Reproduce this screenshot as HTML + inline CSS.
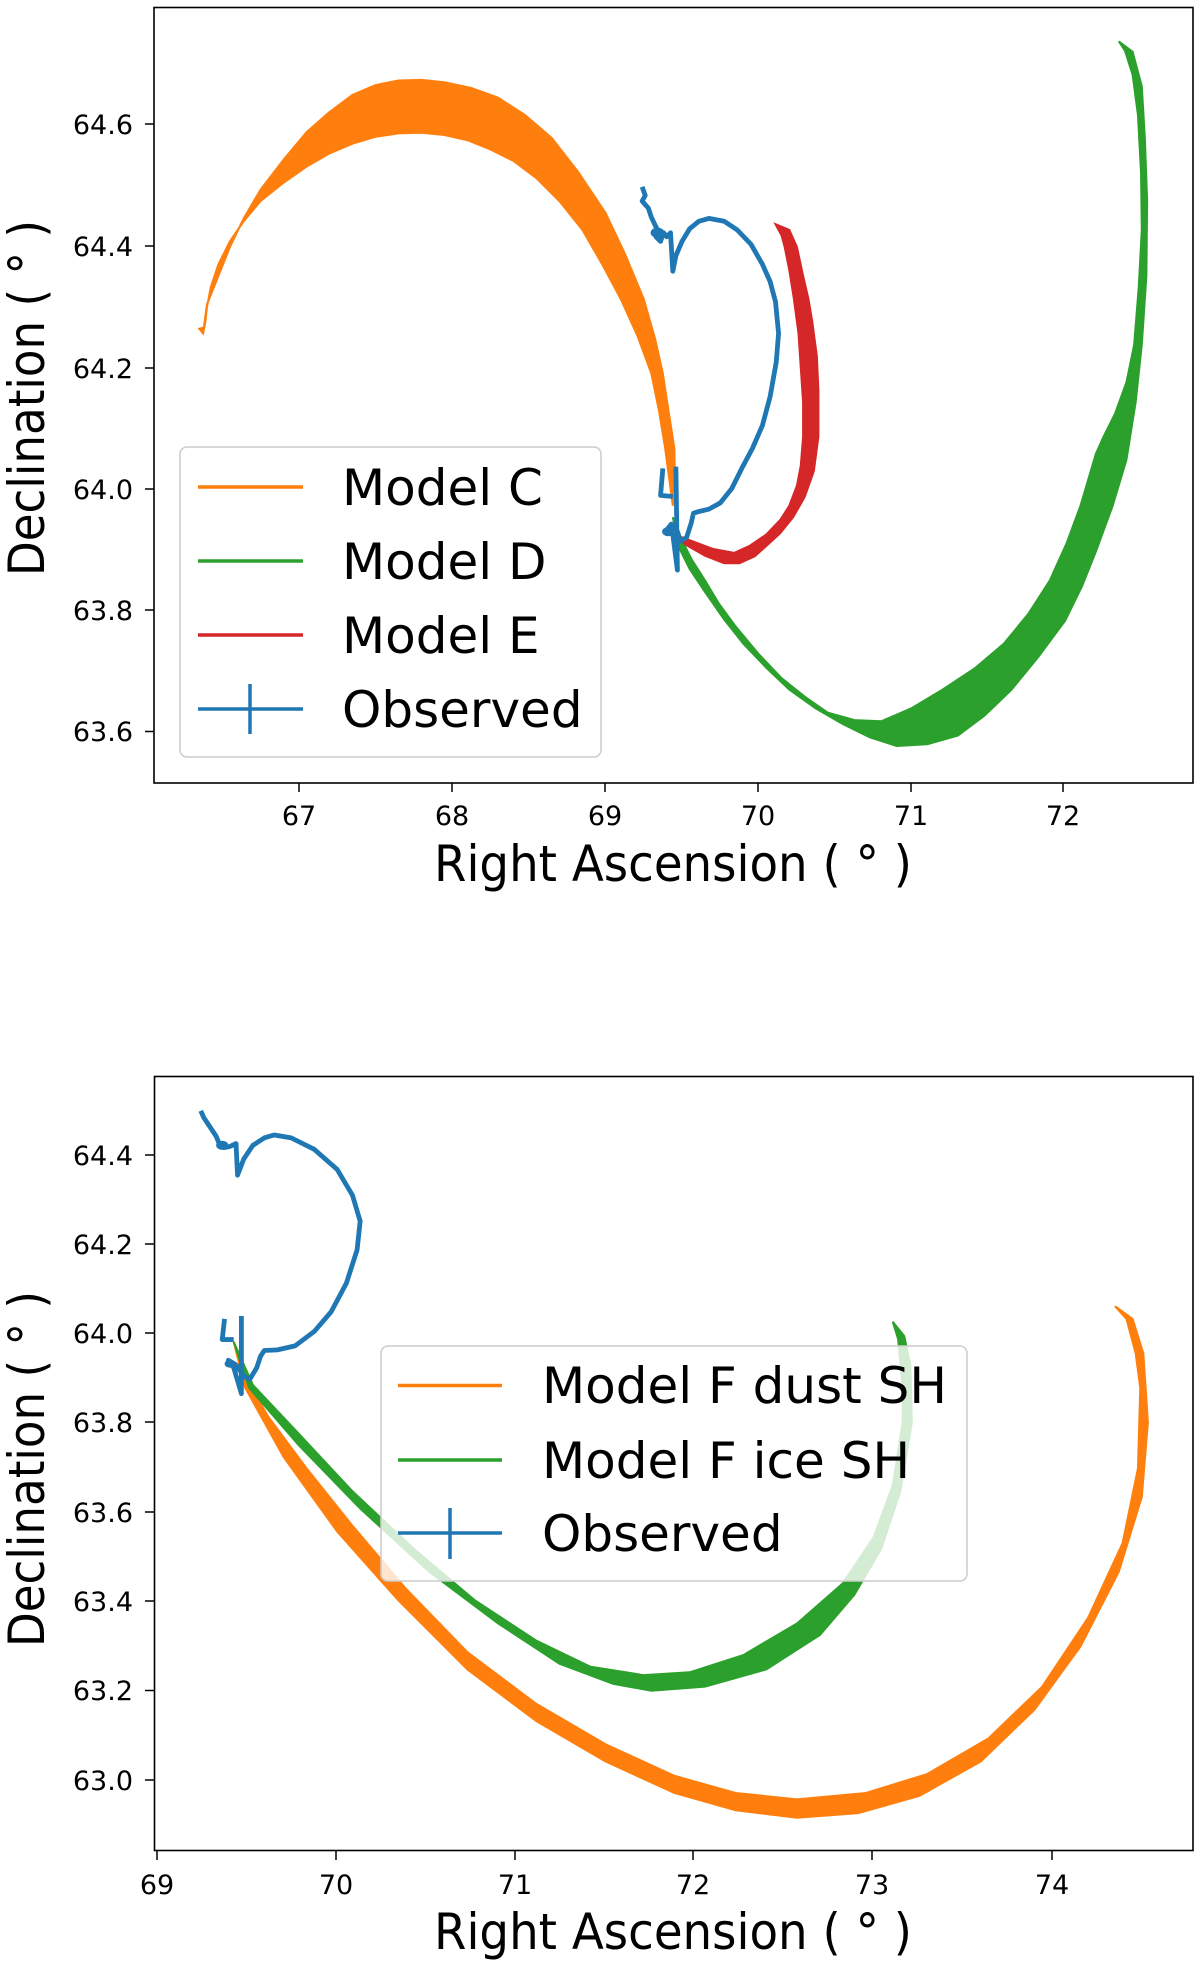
<!DOCTYPE html>
<html><head><meta charset="utf-8"><style>
html,body{margin:0;padding:0;background:#fff}
svg{display:block}
text{font-family:"DejaVu Sans","Liberation Sans",sans-serif;fill:#000}
.t{font-size:27px}
.lg{font-size:50px}
.ax{font-size:50px}
</style></head><body>
<svg width="1200" height="1966" viewBox="0 0 1200 1966" xmlns="http://www.w3.org/2000/svg">
<rect width="1200" height="1966" fill="#fff"/>

<g transform="scale(0.7663,0.5747)">
  <path fill="#ff7f0e" stroke="#ff7f0e" stroke-width="2" vector-effect="non-scaling-stroke" d="M265,580 L260,572 L266,570 L270,530 L285,480 L300,430 L318,380 L340,330 L370,278 L400,230 L430,195 L460,165 L490,148 L520,140 L550,139 L580,143 L615,153 L650,170 L685,200 L720,240 L755,300 L790,370 L815,440 L840,520 L855,590 L865,650 L873,720 L880,780 L881,840 L878,880 L874,840 L868,780 L860,715 L850,650 L832,585 L810,520 L785,458 L760,400 L730,350 L700,310 L670,280 L640,260 L610,244 L580,235 L550,231 L520,232 L490,238 L460,250 L430,267 L400,290 L370,318 L340,350 L318,385 L300,420 L285,460 L275,500 L270,535 L268,560 Z"/>
  <path fill="#2ca02c" stroke="#2ca02c" stroke-width="2" vector-effect="non-scaling-stroke" d="M878,900 L885,950 L900,990 L920,1030 L945,1078 L970,1120 L1000,1162 L1030,1200 L1065,1233 L1100,1260 L1135,1283 L1170,1298 L1210,1295 L1250,1280 L1285,1245 L1320,1200 L1355,1143 L1390,1080 L1412,1020 L1430,960 L1452,880 L1470,800 L1482,700 L1490,600 L1496,480 L1497,350 L1494,240 L1490,150 L1478,90 L1460,72 L1468,88 L1478,130 L1485,200 L1489,300 L1490,400 L1486,500 L1480,600 L1470,665 L1455,720 L1440,760 L1430,790 L1420,835 L1410,880 L1392,945 L1370,1010 L1342,1068 L1310,1120 L1272,1163 L1230,1200 L1190,1232 L1150,1255 L1115,1253 L1080,1240 L1050,1212 L1020,1180 L990,1138 L960,1090 L938,1050 L920,1010 L902,972 L890,940 Z"/>
  <path fill="#d62728" stroke="#d62728" stroke-width="2" vector-effect="non-scaling-stroke" d="M1012,390 L1030,400 L1040,430 L1048,480 L1055,520 L1060,560 L1066,620 L1068,680 L1068,760 L1062,820 L1050,865 L1035,900 L1018,928 L1000,950 L985,968 L965,980 L945,980 L920,967 L895,948 L880,930 L900,940 L930,955 L958,962 L978,950 L1000,930 L1018,905 L1030,880 L1040,845 L1045,810 L1048,760 L1048,700 L1045,640 L1042,580 L1036,520 L1030,470 L1024,430 L1020,410 Z"/>
  <path fill="none" stroke="#1f77b4" stroke-width="4.8" stroke-linejoin="round" vector-effect="non-scaling-stroke" d="M838,325 L842,340 L838,350 L846,362 L850,378 L855,392 L858,400 L856,412 L862,420 L866,405 L870,412 L875,405 L878,472 L882,445 L890,420 L900,398 L912,385 L925,380 L945,385 L962,400 L980,425 L995,460 L1005,490 L1012,525 L1016,580 L1013,630 L1005,690 L995,740 L982,780 L968,815 L955,850 L940,875 L925,886 L912,890 L905,893 L902,910 L896,935 L888,942 L884,925 L876,912 L870,922 L878,930 L884,992 L882,812 M865,815 L862,862 L878,864"/>
  <circle cx="858" cy="405" r="9" fill="#1f77b4"/>
  <circle cx="872" cy="925" r="8" fill="#1f77b4"/>
</g>

<rect x="154" y="7.5" width="1039" height="775.5" fill="none" stroke="#000" stroke-width="1.6"/>
<g stroke="#000" stroke-width="1.5">
  <line x1="145" y1="124" x2="154" y2="124"/><line x1="145" y1="246" x2="154" y2="246"/>
  <line x1="145" y1="368" x2="154" y2="368"/><line x1="145" y1="489" x2="154" y2="489"/>
  <line x1="145" y1="610" x2="154" y2="610"/><line x1="145" y1="731.5" x2="154" y2="731.5"/>
  <line x1="299" y1="783" x2="299" y2="792"/><line x1="452" y1="783" x2="452" y2="792"/>
  <line x1="605" y1="783" x2="605" y2="792"/><line x1="758" y1="783" x2="758" y2="792"/>
  <line x1="911" y1="783" x2="911" y2="792"/><line x1="1063" y1="783" x2="1063" y2="792"/>
</g>
<g class="t" text-anchor="end">
  <text x="133" y="134">64.6</text><text x="133" y="256">64.4</text><text x="133" y="378">64.2</text>
  <text x="133" y="499">64.0</text><text x="133" y="620">63.8</text><text x="133" y="741">63.6</text>
</g>
<g class="t" text-anchor="middle">
  <text x="299" y="825">67</text><text x="452" y="825">68</text><text x="605" y="825">69</text>
  <text x="758" y="825">70</text><text x="911" y="825">71</text><text x="1063" y="825">72</text>
</g>
<text class="ax" x="434" y="881" textLength="478" lengthAdjust="spacingAndGlyphs">Right Ascension ( ° )</text>
<text class="ax" transform="translate(44,576) rotate(-90)" textLength="356" lengthAdjust="spacingAndGlyphs">Declination ( ° )</text>

<rect x="180" y="447" width="421" height="310" rx="7" fill="#fff" fill-opacity="0.8" stroke="#ccc" stroke-width="1.5"/>
<g stroke-width="3.5">
  <line x1="198" y1="487" x2="303" y2="487" stroke="#ff7f0e"/>
  <line x1="198" y1="561" x2="303" y2="561" stroke="#2ca02c"/>
  <line x1="198" y1="635" x2="303" y2="635" stroke="#d62728"/>
  <line x1="198" y1="709" x2="303" y2="709" stroke="#1f77b4"/>
  <line x1="250" y1="684" x2="250" y2="734" stroke="#1f77b4"/>
</g>
<g class="lg">
  <text x="342" y="505">Model C</text><text x="342" y="579">Model D</text>
  <text x="342" y="653">Model E</text><text x="342" y="727">Observed</text>
</g>

<g transform="translate(0,1066) scale(0.7663,0.5747)">
  <path fill="#ff7f0e" stroke="#ff7f0e" stroke-width="2" vector-effect="non-scaling-stroke" d="M305,480 L320,560 L370,680 L440,810 L520,930 L610,1050 L700,1140 L790,1210 L880,1265 L960,1295 L1040,1308 L1120,1300 L1200,1270 L1280,1210 L1350,1120 L1410,1010 L1460,880 L1490,750 L1498,620 L1492,500 L1478,440 L1455,418 L1470,440 L1482,500 L1488,560 L1485,700 L1465,830 L1420,960 L1360,1080 L1290,1170 L1210,1232 L1130,1265 L1040,1276 L960,1265 L880,1235 L790,1180 L700,1110 L610,1020 L530,910 L460,800 L400,700 L350,610 L315,530 Z"/>
  <path fill="#2ca02c" stroke="#2ca02c" stroke-width="2" vector-effect="non-scaling-stroke" d="M305,480 L325,560 L390,660 L470,770 L560,880 L650,970 L730,1040 L800,1075 L850,1087 L920,1080 L1000,1050 L1070,990 L1115,920 L1150,840 L1175,740 L1190,620 L1188,520 L1180,470 L1165,445 L1172,475 L1178,560 L1178,620 L1165,730 L1140,820 L1100,900 L1040,970 L970,1025 L900,1055 L840,1060 L770,1045 L700,1000 L620,930 L540,840 L460,740 L390,640 L330,555 Z"/>
  <path fill="none" stroke="#1f77b4" stroke-width="4.8" stroke-linejoin="round" vector-effect="non-scaling-stroke" d="M262,78 L266,90 L270,98 L276,110 L282,122 L286,135 L292,142 L300,140 L308,135 L310,190 L318,162 L330,138 L345,125 L358,120 L380,125 L410,145 L440,180 L460,225 L470,270 L466,320 L452,378 L432,428 L410,462 L385,487 L362,494 L345,495 L340,505 L335,525 L326,545 L318,540 L308,520 L298,512 L305,525 L315,570 L315,435 M293,440 L290,476 L305,476"/>
  <circle cx="290" cy="138" r="8" fill="#1f77b4"/>
  <circle cx="300" cy="518" r="7" fill="#1f77b4"/>
</g>

<rect x="154.5" y="1076.5" width="1038.5" height="774" fill="none" stroke="#000" stroke-width="1.6"/>
<g stroke="#000" stroke-width="1.5">
  <line x1="145" y1="1155" x2="154" y2="1155"/><line x1="145" y1="1244" x2="154" y2="1244"/>
  <line x1="145" y1="1333" x2="154" y2="1333"/><line x1="145" y1="1422" x2="154" y2="1422"/>
  <line x1="145" y1="1512" x2="154" y2="1512"/><line x1="145" y1="1601" x2="154" y2="1601"/>
  <line x1="145" y1="1690.5" x2="154" y2="1690.5"/><line x1="145" y1="1780" x2="154" y2="1780"/>
  <line x1="157" y1="1851" x2="157" y2="1860"/><line x1="336" y1="1851" x2="336" y2="1860"/>
  <line x1="515" y1="1851" x2="515" y2="1860"/><line x1="693" y1="1851" x2="693" y2="1860"/>
  <line x1="872" y1="1851" x2="872" y2="1860"/><line x1="1052" y1="1851" x2="1052" y2="1860"/>
</g>
<g class="t" text-anchor="end">
  <text x="133" y="1165">64.4</text><text x="133" y="1254">64.2</text><text x="133" y="1343">64.0</text>
  <text x="133" y="1432">63.8</text><text x="133" y="1522">63.6</text><text x="133" y="1611">63.4</text>
  <text x="133" y="1700">63.2</text><text x="133" y="1790">63.0</text>
</g>
<g class="t" text-anchor="middle">
  <text x="157" y="1894">69</text><text x="336" y="1894">70</text><text x="515" y="1894">71</text>
  <text x="693" y="1894">72</text><text x="872" y="1894">73</text><text x="1052" y="1894">74</text>
</g>
<text class="ax" x="434" y="1949" textLength="478" lengthAdjust="spacingAndGlyphs">Right Ascension ( ° )</text>
<text class="ax" transform="translate(44,1647) rotate(-90)" textLength="356" lengthAdjust="spacingAndGlyphs">Declination ( ° )</text>

<rect x="381" y="1346" width="586" height="235" rx="7" fill="#fff" fill-opacity="0.8" stroke="#ccc" stroke-width="1.5"/>
<g stroke-width="3.5">
  <line x1="398" y1="1385.5" x2="502" y2="1385.5" stroke="#ff7f0e"/>
  <line x1="398" y1="1460" x2="502" y2="1460" stroke="#2ca02c"/>
  <line x1="398" y1="1533" x2="502" y2="1533" stroke="#1f77b4"/>
  <line x1="450" y1="1508" x2="450" y2="1559" stroke="#1f77b4"/>
</g>
<g class="lg">
  <text x="542" y="1403">Model F dust SH</text>
  <text x="542" y="1478">Model F ice SH</text>
  <text x="542" y="1551">Observed</text>
</g>
</svg>
</body></html>
